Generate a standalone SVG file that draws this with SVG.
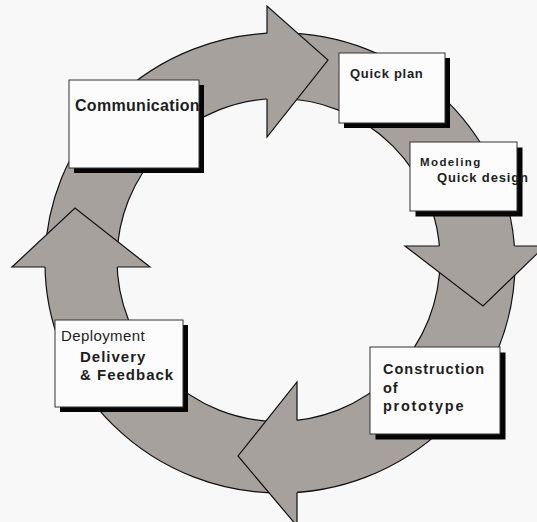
<svg xmlns="http://www.w3.org/2000/svg" width="537" height="522" viewBox="0 0 537 522">
<style>
.ring{fill:#a7a19e;stroke:#111;stroke-width:1.2;fill-rule:evenodd}
.head{fill:#a7a19e;stroke:none}
.edge{fill:none;stroke:#111;stroke-width:1.2;stroke-linejoin:miter}
.box{fill:#fcfcfc;stroke:#333;stroke-width:1}
.shadow{fill:#050505}
.t{font-family:"Liberation Sans",Arial,sans-serif;fill:#1e1e1e}
.b{font-weight:bold}
</style>
<rect width="537" height="522" fill="#f8f8f8"/>
<g id="connectors">
<path class="ring" d="M45,263 A235,230 0 1,1 515,263 A235,230 0 1,1 45,263 Z M117,260 A161.5,161.5 0 1,0 440,260 A161.5,161.5 0 1,0 117,260 Z"/>
<g id="arrow-top">
<polygon class="head" points="267,6 328,60 267,137"/>
<path class="edge" d="M267,33.4 L267,6 L328,60 L267,137 L267,98.9"/>
</g>
<g id="arrow-right">
<polygon class="head" points="405,246 545,246 483,306"/>
<path class="edge" d="M439.4,246 L405,246 L483,306 L545,246 L514.4,246"/>
</g>
<g id="arrow-bottom">
<polygon class="head" points="297,382 238,456 297,526"/>
<path class="edge" d="M297,420.4 L297,382 L238,456 L297,526 L297,492.4"/>
</g>
<g id="arrow-left">
<polygon class="head" points="12,267 75,208 150,267"/>
<path class="edge" d="M45,267 L12,267 L75,208 L150,267 L117.2,267"/>
</g>
</g>
<g id="communication">
<rect class="shadow" x="74" y="85" width="130" height="88"/>
<rect class="box" x="69" y="80" width="130" height="88"/>
<text class="t b" x="75" y="110.5" font-size="16" letter-spacing="0.3">Communication</text>
</g>
<g id="quick-plan">
<rect class="shadow" x="344" y="58" width="106" height="70"/>
<rect class="box" x="339" y="53" width="106" height="70"/>
<text class="t b" x="350" y="78" font-size="13" letter-spacing="0.7">Quick plan</text>
</g>
<g id="modeling">
<rect class="shadow" x="415.5" y="147.5" width="107" height="69"/>
<rect class="box" x="410" y="142" width="107" height="69"/>
<text class="t b" x="420" y="166" font-size="11.5" letter-spacing="1.4">Modeling</text>
<text class="t b" x="437" y="182" font-size="13" letter-spacing="0.85">Quick design</text>
</g>
<g id="construction">
<rect class="shadow" x="375.5" y="352.5" width="130" height="87"/>
<rect class="box" x="370" y="347" width="130" height="87"/>
<text class="t b" x="383" y="374" font-size="14.5" letter-spacing="1">Construction</text>
<text class="t b" x="383" y="392.5" font-size="14.5" letter-spacing="1">of</text>
<text class="t b" x="383" y="411" font-size="14.5" letter-spacing="1.7">prototype</text>
</g>
<g id="deployment">
<rect class="shadow" x="60" y="325" width="128" height="87"/>
<rect class="box" x="55" y="320" width="128" height="87"/>
<text class="t" x="61" y="341" font-size="15" letter-spacing="0.4" fill="#2a2a2a">Deployment</text>
<text class="t b" x="80" y="361.5" font-size="15" letter-spacing="1">Delivery</text>
<text class="t b" x="80" y="380" font-size="15" letter-spacing="1">&amp; Feedback</text>
</g>
</svg>
